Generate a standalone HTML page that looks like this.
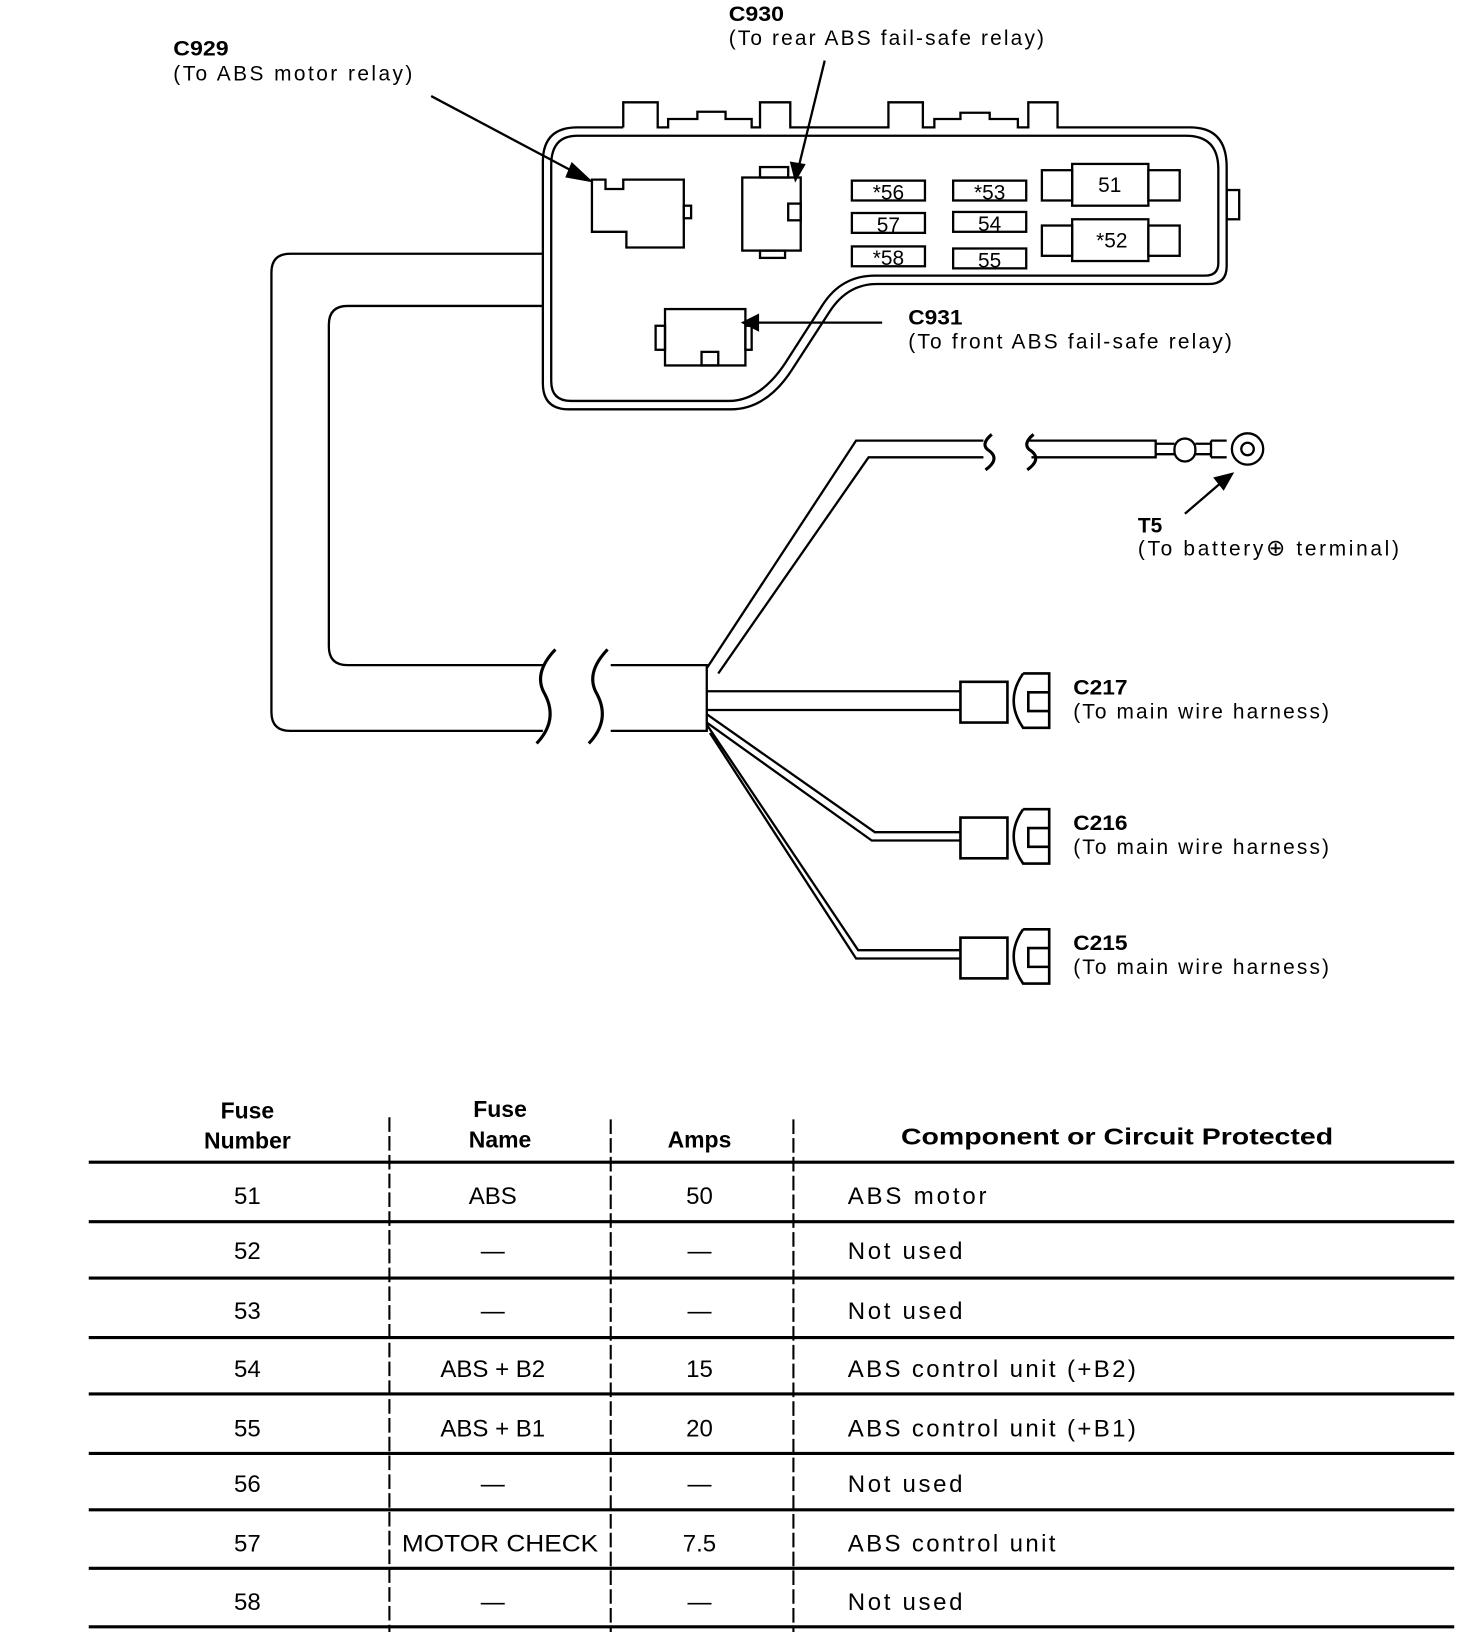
<!DOCTYPE html>
<html><head><meta charset="utf-8"><style>
html,body{margin:0;padding:0;background:#fff;}
svg{display:block;}
text{font-family:"Liberation Sans",sans-serif;fill:#000;}
.b{font-weight:bold;}
</style></head><body>
<svg width="1472" height="1632" viewBox="0 0 1410 1563" preserveAspectRatio="none" xmlns="http://www.w3.org/2000/svg">
<g fill="none" stroke="#000" stroke-width="2.2">
<path d="M597,122 V98 H630 V122 H640 V114 H668 V107 H695 V114 H720 V122 H728 V98 H757 V122 H851 V98 H884 V122 H895 V114 H920 V108 H948 V114 H975 V122 H985 V98 H1013 V122 H1140 Q1175,122 1175,160 V255 Q1175,272 1158,272 H840 Q812,272 795,298 L760,352 Q735,392 700,392 H545 Q520,392 520,367 V155 Q520,122 553,122 H597"/>
<path d="M553,130 H1136 Q1167,130 1167,162 V252 Q1167,264 1154,264 H838 Q806,264 788,292 L752,348 Q728,384 698,384 H547 Q528,384 528,365 V158 Q528,130 553,130"/>
<rect x="1175" y="182" width="12" height="28"/>
<path d="M567,172 H580 V181 H597 V172 H655 V237 H600 V222 H567 Z"/>
<rect x="655" y="197" width="7" height="12"/>
<rect x="711" y="170" width="56" height="70"/>
<rect x="728" y="160" width="27" height="10"/>
<rect x="728" y="240" width="24" height="7"/>
<rect x="755" y="195" width="12" height="16"/>
<rect x="816" y="173" width="70" height="19"/>
<rect x="816" y="204" width="70" height="19"/>
<rect x="816" y="236" width="70" height="19"/>
<rect x="913" y="173" width="70" height="19"/>
<rect x="913" y="203" width="70" height="19"/>
<rect x="913" y="238" width="70" height="19"/>
<rect x="998" y="163" width="29" height="29"/>
<rect x="1027" y="157" width="73" height="40"/>
<rect x="1100" y="163" width="30" height="29"/>
<rect x="998" y="216" width="29" height="29"/>
<rect x="1027" y="210" width="73" height="40"/>
<rect x="1100" y="216" width="30" height="29"/>
<rect x="637" y="296" width="77" height="54"/>
<rect x="628" y="312" width="9" height="23"/>
<rect x="714" y="312" width="6" height="23"/>
<rect x="672" y="337" width="16" height="13"/>
<path d="M520,243 H278 Q260,243 260,261 V682 Q260,700 278,700 H520"/>
<path d="M520,293 H333 Q315,293 315,311 V619 Q315,637 333,637 H520"/>
<path d="M585,637 H677 V700 H585"/>
<path d="M677,640 L820,422 H942"/>
<path d="M688,645 L832,438 H942"/>
<path d="M986,422 H1107 V438 H988"/>
<path d="M1107,425 H1125 M1107,435 H1125"/>
<rect x="1125" y="420" width="20" height="22" rx="10"/>
<path d="M1145,425 H1160 M1145,435 H1160"/>
<path d="M1160,422 H1175 M1160,438 H1175 M1160,422 V438"/>
<circle cx="1195" cy="430" r="15"/>
<circle cx="1195" cy="430" r="6"/>
<path d="M677,662 H920 M677,680 H920"/>
<path d="M677,684 L838,797 H920 M677,692 L835,805 H920"/>
<path d="M677,694 L822,910 H920 M680,702 L820,918 H920"/>
</g>
<g fill="none" stroke="#000" stroke-width="3">
<path d="M532,622 Q510,645 522,665 Q535,690 514,712"/>
<path d="M582,622 Q560,645 572,665 Q585,690 564,712"/>
<path d="M950,416 Q938,426 948,432 Q958,440 944,450"/>
<path d="M990,416 Q978,426 988,432 Q998,440 984,450"/>
</g>
<g fill="none" stroke="#000" stroke-width="2.5">
<g><rect x="920" y="653" width="45" height="39"/><path d="M980,645 H1005 V697 H980 Q962,671 980,645"/><path d="M1005,663 H985 V681 H1005"/></g>
<g transform="translate(0,130)"><rect x="920" y="653" width="45" height="39"/><path d="M980,645 H1005 V697 H980 Q962,671 980,645"/><path d="M1005,663 H985 V681 H1005"/></g>
<g transform="translate(0,245)"><rect x="920" y="653" width="45" height="39"/><path d="M980,645 H1005 V697 H980 Q962,671 980,645"/><path d="M1005,663 H985 V681 H1005"/></g>
</g>
<g stroke="#000" stroke-width="2.2" fill="#000">
<line x1="413" y1="92" x2="556" y2="168"/><path d="M565,173 L548,157 L543,169 Z"/>
<line x1="790" y1="58" x2="765" y2="160"/><path d="M762,172 L758,156 L770,158 Z"/>
<line x1="845" y1="309" x2="722" y2="309"/><path d="M712,309 L726,302 L726,316 Z"/>
<line x1="1135" y1="492" x2="1170" y2="462"/><path d="M1180,454 L1164,458 L1172,468 Z"/>
</g>
<g font-size="20" text-anchor="middle">
<text x="851" y="191">*56</text><text x="851" y="222">57</text><text x="851" y="254">*58</text>
<text x="948" y="191">*53</text><text x="948" y="221">54</text><text x="948" y="256">55</text>
<text x="1063" y="184">51</text><text x="1065" y="237">*52</text>
</g>
<g font-size="20">
<text class="b" x="166" y="53" textLength="53" lengthAdjust="spacingAndGlyphs">C929</text><text x="166" y="77" textLength="229" lengthAdjust="spacing">(To ABS motor relay)</text>
<text class="b" x="698" y="20" textLength="53" lengthAdjust="spacingAndGlyphs">C930</text><text x="698" y="43" textLength="302" lengthAdjust="spacing">(To rear ABS fail-safe relay)</text>
<text class="b" x="870" y="311" textLength="52" lengthAdjust="spacingAndGlyphs">C931</text><text x="870" y="334" textLength="310" lengthAdjust="spacing">(To front ABS fail-safe relay)</text>
<text class="b" x="1090" y="510">T5</text><text x="1090" y="532" textLength="250" lengthAdjust="spacing">(To battery<tspan font-size="22">⊕</tspan>  terminal)</text>
<text class="b" x="1028" y="665" textLength="52" lengthAdjust="spacingAndGlyphs">C217</text><text x="1028" y="688" textLength="245" lengthAdjust="spacing">(To main wire harness)</text>
<text class="b" x="1028" y="795" textLength="52" lengthAdjust="spacingAndGlyphs">C216</text><text x="1028" y="818" textLength="245" lengthAdjust="spacing">(To main wire harness)</text>
<text class="b" x="1028" y="910" textLength="52" lengthAdjust="spacingAndGlyphs">C215</text><text x="1028" y="933" textLength="245" lengthAdjust="spacing">(To main wire harness)</text>
</g>
<g stroke="#000">
<g stroke-width="3">
<line x1="85" y1="1113" x2="1393" y2="1113"/>
<line x1="85" y1="1170" x2="1393" y2="1170"/>
<line x1="85" y1="1224" x2="1393" y2="1224"/>
<line x1="85" y1="1281" x2="1393" y2="1281"/>
<line x1="85" y1="1335" x2="1393" y2="1335"/>
<line x1="85" y1="1392" x2="1393" y2="1392"/>
<line x1="85" y1="1446" x2="1393" y2="1446"/>
<line x1="85" y1="1502" x2="1393" y2="1502"/>
<line x1="85" y1="1558" x2="1393" y2="1558"/>
</g>
<g stroke-width="2" stroke-dasharray="14,4">
<line x1="373" y1="1070" x2="373" y2="1563"/>
<line x1="585" y1="1072" x2="585" y2="1563"/>
<line x1="760" y1="1072" x2="760" y2="1563"/>
</g>
</g>
<g font-size="22" class="b" text-anchor="middle">
<text x="237" y="1071">Fuse</text><text x="237" y="1100">Number</text>
<text x="479" y="1070">Fuse</text><text x="479" y="1099">Name</text>
<text x="670" y="1099">Amps</text>
<text x="1070" y="1096" textLength="414" lengthAdjust="spacingAndGlyphs">Component or Circuit Protected</text>
</g>
<g font-size="23" text-anchor="middle">
<text x="237" y="1153">51</text><text x="472" y="1153">ABS</text><text x="670" y="1153">50</text>
<text x="237" y="1206">52</text><text x="472" y="1206">—</text><text x="670" y="1206">—</text>
<text x="237" y="1263">53</text><text x="472" y="1263">—</text><text x="670" y="1263">—</text>
<text x="237" y="1319">54</text><text x="472" y="1319">ABS + B2</text><text x="670" y="1319">15</text>
<text x="237" y="1376">55</text><text x="472" y="1376">ABS + B1</text><text x="670" y="1376">20</text>
<text x="237" y="1429">56</text><text x="472" y="1429">—</text><text x="670" y="1429">—</text>
<text x="237" y="1486">57</text><text x="479" y="1486" textLength="188" lengthAdjust="spacingAndGlyphs">MOTOR CHECK</text><text x="670" y="1486">7.5</text>
<text x="237" y="1542">58</text><text x="472" y="1542">—</text><text x="670" y="1542">—</text>
</g>
<g font-size="23">
<text x="812" y="1153" textLength="133" lengthAdjust="spacing">ABS motor</text>
<text x="812" y="1206" textLength="110" lengthAdjust="spacing">Not used</text>
<text x="812" y="1263" textLength="110" lengthAdjust="spacing">Not used</text>
<text x="812" y="1319" textLength="276" lengthAdjust="spacing">ABS control unit  (+B2)</text>
<text x="812" y="1376" textLength="276" lengthAdjust="spacing">ABS control unit  (+B1)</text>
<text x="812" y="1429" textLength="110" lengthAdjust="spacing">Not used</text>
<text x="812" y="1486" textLength="199" lengthAdjust="spacing">ABS control unit</text>
<text x="812" y="1542" textLength="110" lengthAdjust="spacing">Not used</text>
</g>
</svg>
</body></html>
